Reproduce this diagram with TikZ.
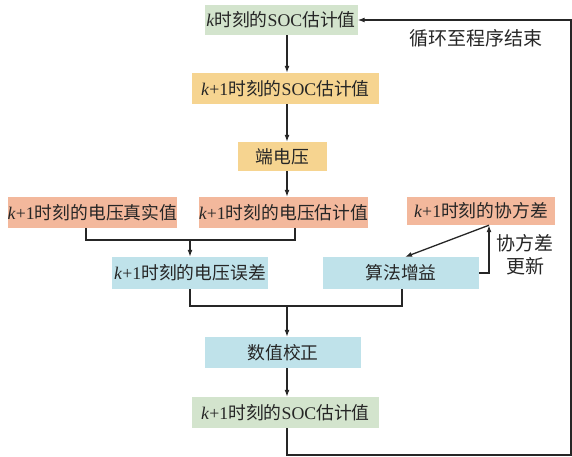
\documentclass[tikz,border=0pt]{standalone}
\usepackage{fontspec}
\setmainfont{Liberation Serif}
\newfontfamily\cjk{Noto Sans CJK SC}
\usetikzlibrary{arrows.meta}
\definecolor{cgreen}{HTML}{D3E4CD}
\definecolor{cyellow}{HTML}{F6D490}
\definecolor{csalmon}{HTML}{F3B89C}
\definecolor{cblue}{HTML}{BFE2EA}
\definecolor{cline}{HTML}{262626}
\newcommand\kk{{\rmfamily\itshape k}}
\newcommand\kp{{\rmfamily\itshape k\/\upshape+1}}
\newcommand\soc{{\rmfamily SOC}}
\begin{document}
\begin{tikzpicture}[x=1pt,y=-1pt,
  box/.style={inner sep=0pt, anchor=center, font=\cjk\fontsize{17.8}{20}\selectfont, text=black!85},
  lbl/.style={inner sep=0pt, anchor=center, font=\cjk\fontsize{19}{23}\selectfont, text=black!85, align=center},
  ln/.style={draw=cline, line width=1.3pt},
  arr/.style={ln, -{Latex[length=7pt,width=5pt]}}]
\useasboundingbox (0,0) rectangle (572,457);
\node[box, fill=cgreen, minimum width=153, minimum height=30] (n1) at (281,20) {\kk 时刻的\soc 估计值};
\node[box, fill=cyellow, minimum width=187, minimum height=31] (n2) at (285.5,88.5) {\kp 时刻的\soc 估计值};
\node[box, fill=cyellow, minimum width=89, minimum height=29] (n3) at (282.5,156.5) {端电压};
\node[box, fill=csalmon, minimum width=169, minimum height=31] (n4) at (92.5,212.5) {\kp 时刻的电压真实值};
\node[box, fill=csalmon, minimum width=169, minimum height=31] (n5) at (283.5,212.5) {\kp 时刻的电压估计值};
\node[box, fill=csalmon, minimum width=148, minimum height=28] (n6) at (481,211) {\kp 时刻的协方差};
\node[box, fill=cblue, minimum width=156, minimum height=32] (n7) at (190,273) {\kp 时刻的电压误差};
\node[box, fill=cblue, minimum width=156, minimum height=32] (n8) at (401,273) {算法增益};
\node[box, fill=cblue, minimum width=156, minimum height=31] (n9) at (283,352.5) {数值校正};
\node[box, fill=cgreen, minimum width=187, minimum height=31] (n10) at (285.5,412.5) {\kp 时刻的\soc 估计值};
\node[lbl] (loop) at (476,38) {循环至程序结束};
\node[lbl] (upd) at (525,255) {协方差\\更新};
\coordinate (tr) at (287,0);
\coordinate (ja) at (86,240);
\coordinate (jb) at (295,240);
\coordinate (jm) at (190,240);
\coordinate (ka) at (190,306);
\coordinate (kb) at (402,306);
\coordinate (km) at (287,306);
\coordinate (cv) at (489,0);
\coordinate (lp1) at (287,455);
\coordinate (lp2) at (571,455);
\coordinate (lp3) at (571,20);
\draw[arr] (n1.south -| tr) -- (n2.north -| tr);
\draw[arr] (n2.south -| tr) -- (n3.north -| tr);
\draw[arr] (n3.south -| tr) -- (n5.north -| tr);
\draw[ln] (n4.south -| ja) -- (ja) -- (jb) -- (n5.south -| jb);
\draw[arr] (jm) -- (n7.north -| jm);
\draw[ln] (n7.south -| ka) -- (ka) -- (kb) -- (n8.south -| kb);
\draw[arr] (km) -- (n9.north -| km);
\draw[arr] (n9.south -| tr) -- (n10.north -| tr);
\draw[arr] (n6.south -| cv) -- (405,257);
\draw[arr] (n8.east) -- (n8.east -| cv) -- (n6.south -| cv);
\draw[arr] (n10.south -| tr) -- (lp1) -- (lp2) -- (lp3) -- (n1.east);
\end{tikzpicture}
\end{document}
